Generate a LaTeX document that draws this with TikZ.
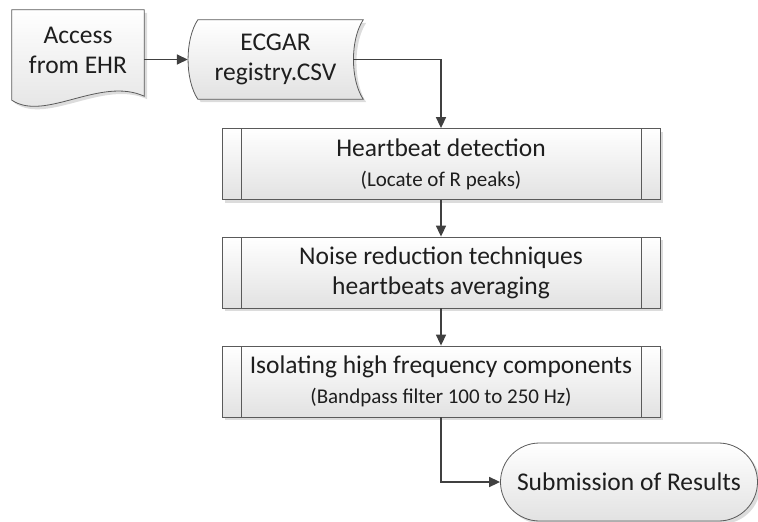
\documentclass[tikz,border=0pt]{standalone}
\usepackage{fontspec}
\setmainfont{Carlito}
\usetikzlibrary{arrows.meta,shapes.misc,shadows,backgrounds}
\definecolor{lnc}{HTML}{404040}
\definecolor{bdc}{HTML}{5A5A5A}
\definecolor{txc}{HTML}{1E1E1E}
\definecolor{shd}{HTML}{E2E2E2}
\newcommand{\subl}[1]{{\fontsize{21}{25}\selectfont #1}}

\begin{document}
\begin{tikzpicture}[x=1pt, y=-1pt,
  flowfill/.style={top color=white, bottom color=shd, draw=bdc, line width=0.8pt,
                   drop shadow={shadow xshift=3pt, shadow yshift=-3pt, fill=black!30, opacity=0.45}},
  txt/.style={font=\fontsize{25.5}{30}\selectfont, text=txc, align=center, inner sep=0pt},
  proc/.style={txt, flowfill, rectangle, minimum width=438pt, minimum height=71pt,
               path picture={\draw[bdc, line width=0.8pt]
                 ([xshift=19pt]path picture bounding box.north west) -- ([xshift=19pt]path picture bounding box.south west)
                 ([xshift=-19pt]path picture bounding box.north east) -- ([xshift=-19pt]path picture bounding box.south east);}},
  term/.style={txt, flowfill, rounded rectangle, minimum width=257pt, minimum height=78pt},
  flow/.style={-{Triangle[length=11pt, width=10pt]}, line width=1.6pt, draw=lnc}]
\useasboundingbox (0,0) rectangle (758,522);
% sources
\node[txt, minimum width=132pt, minimum height=80pt] (ehr) at (78,50) {Access\\from EHR};
\node[txt, minimum width=175pt, minimum height=79pt] (csv) at (275.5,59.5) {ECGAR\\registry.CSV};
\begin{scope}[on background layer]
\draw[flowfill] (ehr.north west) -- (ehr.north east) -- ([yshift=-6pt]ehr.south east)
  .. controls ([shift={(-44pt,14pt)}]ehr.south east) and ([shift={(33pt,-32pt)}]ehr.south west) .. ([yshift=-10pt]ehr.south west) -- cycle;
\draw[flowfill] ([xshift=10pt]csv.north west) -- (csv.north east)
  .. controls ([shift={(-13pt,20pt)}]csv.east) and ([shift={(-13pt,-20pt)}]csv.east) .. (csv.south east)
  -- ([xshift=10pt]csv.south west)
  .. controls ([shift={(-3pt,-20pt)}]csv.west) and ([shift={(-3pt,20pt)}]csv.west) .. cycle;
\end{scope}
\coordinate (csv-out) at ([xshift=-10pt]csv.east);
% processing steps
\node[proc] (hb) at (441,164)   {Heartbeat detection\\\subl{(Locate of R peaks)}};
\node[proc] (nr) at (441,272.5) {Noise reduction techniques\\heartbeats averaging};
\node[proc] (hf) at (441,381.5) {Isolating high frequency components\\\subl{(Bandpass filter 100 to 250 Hz)}};
\node[term] (res) at (629,482)  {Submission of Results};
% connectors
\draw[flow] (ehr.east |- csv.west) -- (csv.west);
\draw[flow] (csv-out) -| (hb.north);
\draw[flow] (hb) -- (nr);
\draw[flow] (nr) -- (hf);
\draw[flow] (hf.south) |- (res.west);
\end{tikzpicture}
\end{document}
